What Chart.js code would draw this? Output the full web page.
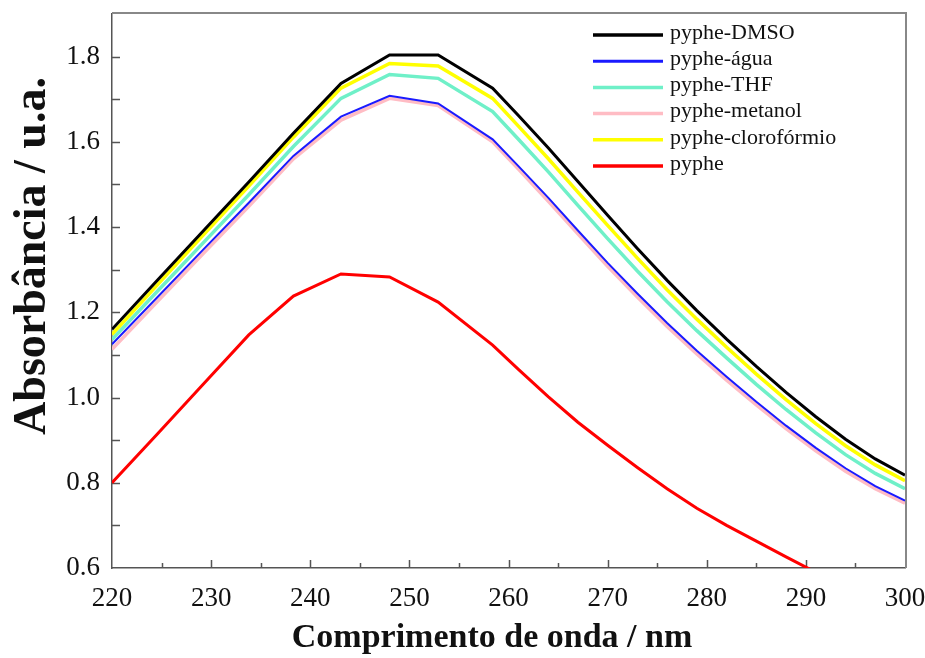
<!DOCTYPE html>
<html>
<head>
<meta charset="utf-8">
<title>Absorbância pyphe</title>
<script src="https://cdn.jsdelivr.net/npm/chart.js@4.4.0/dist/chart.umd.min.js"></script>
<style>
  html, body { margin: 0; padding: 0; background: #fff; }
  #wrap { width: 925px; height: 658px; }
</style>
</head>
<body>
<div id="wrap"><canvas id="chart" width="925" height="658"></canvas></div>
<script>
// ----- data -----
const wavelength = [220, 224.6, 229.2, 233.8, 238.3, 243.1, 248, 252.9, 258.4, 261, 264, 267, 270, 273, 276, 279, 282, 285, 288, 291, 294, 297, 300]

const dmso = [1.160, 1.276, 1.391, 1.506, 1.620, 1.737, 1.804, 1.804, 1.726, 1.662, 1.586, 1.507, 1.428, 1.350, 1.275, 1.204, 1.137, 1.073, 1.012, 0.955, 0.902, 0.856, 0.818]
const agua = [1.125, 1.236, 1.347, 1.457, 1.567, 1.659, 1.708, 1.690, 1.606, 1.543, 1.469, 1.392, 1.316, 1.244, 1.175, 1.110, 1.049, 0.990, 0.934, 0.882, 0.834, 0.792, 0.758]
const thf = [1.136, 1.250, 1.363, 1.476, 1.589, 1.702, 1.758, 1.749, 1.671, 1.606, 1.530, 1.451, 1.373, 1.297, 1.225, 1.157, 1.093, 1.031, 0.972, 0.917, 0.866, 0.822, 0.786]
const metanol = [1.113, 1.226, 1.338, 1.449, 1.560, 1.651, 1.702, 1.685, 1.600, 1.536, 1.461, 1.384, 1.308, 1.236, 1.167, 1.102, 1.041, 0.983, 0.927, 0.875, 0.827, 0.786, 0.752]
const cloroformio = [1.148, 1.265, 1.381, 1.496, 1.611, 1.726, 1.784, 1.778, 1.702, 1.637, 1.561, 1.482, 1.404, 1.327, 1.253, 1.184, 1.118, 1.055, 0.995, 0.939, 0.887, 0.842, 0.805]
// the last points fall below the axis and are clipped, as in the figure
const pyphe = [0.800, 0.915, 1.031, 1.147, 1.238, 1.290, 1.283, 1.224, 1.123, 1.066, 1.002, 0.942, 0.888, 0.836, 0.786, 0.740, 0.700, 0.663, 0.626, 0.590, 0.556, 0.524, 0.494]

const seriesNames = ['pyphe-DMSO', 'pyphe-água', 'pyphe-THF', 'pyphe-metanol', 'pyphe-clorofórmio', 'pyphe']
const xTicks = [220, 230, 240, 250, 260, 270, 280, 290, 300]
const yTicks = [0.6, 0.8, 1.0, 1.2, 1.4, 1.6, 1.8]
const xTitle = 'Comprimento de onda / nm'
const yTitle = 'Absorbância / u.a.'

const serif = "'Liberation Serif', 'Times New Roman', Times, serif"

const toPoints = vals => wavelength.map((w, i) => ({ x: w, y: vals[i] }))

// ----- styles -----
const styles = [
  { color: '#000000', width: 3 },
  { color: '#1a1aff', width: 2 },
  { color: '#6ff0c8', width: 3.5 },
  { color: '#ffbcc4', width: 3.5 },
  { color: '#ffff00', width: 3.5 },
  { color: '#ff0000', width: 3 },
]
const allSeries = [dmso, agua, thf, metanol, cloroformio, pyphe]

// ticks pointing inwards + light frame on top/right
const frameTicks = {
  id: 'frameTicks',
  beforeDatasetsDraw(chart) {
    const { ctx, chartArea: a, scales: { x, y } } = chart
    ctx.save()
    ctx.strokeStyle = '#555'
    ctx.lineWidth = 1.5
    ctx.beginPath()
    for (let v = 225; v < 300; v += 5) {
      const px = Math.round(x.getPixelForValue(v)) + 0.5
      const len = v % 10 === 0 ? 8 : 5
      ctx.moveTo(px, a.bottom)
      ctx.lineTo(px, a.bottom - len)
    }
    for (let k = 7; k < 19; k++) {
      const py = Math.round(y.getPixelForValue(k / 10)) + 0.5
      ctx.moveTo(a.left, py)
      ctx.lineTo(a.left + 8, py)
    }
    ctx.stroke()

    ctx.strokeStyle = '#888'
    ctx.lineWidth = 2
    ctx.beginPath()
    ctx.moveTo(a.left, a.top - 1)
    ctx.lineTo(a.right + 1, a.top - 1)
    ctx.lineTo(a.right + 1, a.bottom)
    ctx.stroke()
    ctx.restore()
  },
}

// axis titles: the original sets them a bit off the axis centres
const axisTitles = {
  id: 'axisTitles',
  afterDraw(chart) {
    const { ctx } = chart
    ctx.save()
    ctx.fillStyle = '#111'
    ctx.textAlign = 'center'
    ctx.textBaseline = 'middle'
    ctx.font = `bold 34px ${serif}`
    ctx.fillText(xTitle, 492, 638)
    ctx.translate(33, 256)
    ctx.rotate(-Math.PI / 2)
    ctx.font = `bold 46px ${serif}`
    ctx.fillText(yTitle, 0, 0)
    ctx.restore()
  },
}

// legend drawn by hand so the line samples look like the original
const lineLegend = {
  id: 'lineLegend',
  afterDraw(chart) {
    const { ctx } = chart
    ctx.save()
    ctx.font = `22px ${serif}`
    ctx.textBaseline = 'middle'
    ctx.fillStyle = '#111'
    chart.data.datasets.forEach((ds, i) => {
      const yy = 35 + i * 26.2
      ctx.strokeStyle = ds.borderColor
      ctx.lineWidth = i === 1 ? 3 : 3.5
      ctx.beginPath()
      ctx.moveTo(593, yy)
      ctx.lineTo(663, yy)
      ctx.stroke()
      ctx.fillText(ds.label, 670, yy - 2)
    })
    ctx.restore()
  },
}

new Chart(document.getElementById('chart'), {
  type: 'line',
  data: {
    datasets: allSeries.map((vals, i) => ({
      label: seriesNames[i],
      data: toPoints(vals),
      borderColor: styles[i].color,
      borderWidth: styles[i].width,
      pointRadius: 0,
      tension: 0,
      fill: false,
    })),
  },
  options: {
    responsive: false,
    animation: false,
    devicePixelRatio: 1,
    layout: { padding: { top: 14, right: 20, left: 0, bottom: 0 } },
    plugins: {
      legend: { display: false },
      tooltip: { enabled: false },
    },
    scales: {
      x: {
        type: 'linear',
        min: 220,
        max: 300,
        // fixed box so the plot area lands where the original has it
        afterFit: s => { s.height = 90; s.paddingLeft = 0; s.paddingRight = 0 },
        afterBuildTicks: s => { s.ticks = xTicks.map(v => ({ value: v })) },
        grid: { display: false, drawTicks: false },
        border: { display: true, color: '#555', width: 1.5 },
        ticks: {
          color: '#111',
          font: { family: serif, size: 27 },
          padding: 15,
          maxRotation: 0,
          callback: v => String(v),
        },
        title: { display: false },
      },
      y: {
        type: 'linear',
        min: 0.6,
        max: 1.9,
        afterFit: s => { s.width = 112; s.paddingTop = 0; s.paddingBottom = 0 },
        afterBuildTicks: s => { s.ticks = yTicks.map(v => ({ value: v })) },
        grid: { display: false, drawTicks: false },
        border: { display: true, color: '#555', width: 1.5 },
        ticks: {
          color: '#111',
          font: { family: serif, size: 27 },
          padding: 12,
          callback: v => Number(v).toFixed(1),
        },
        title: { display: false },
      },
    },
  },
  plugins: [frameTicks, axisTitles, lineLegend],
})
</script>
</body>
</html>
